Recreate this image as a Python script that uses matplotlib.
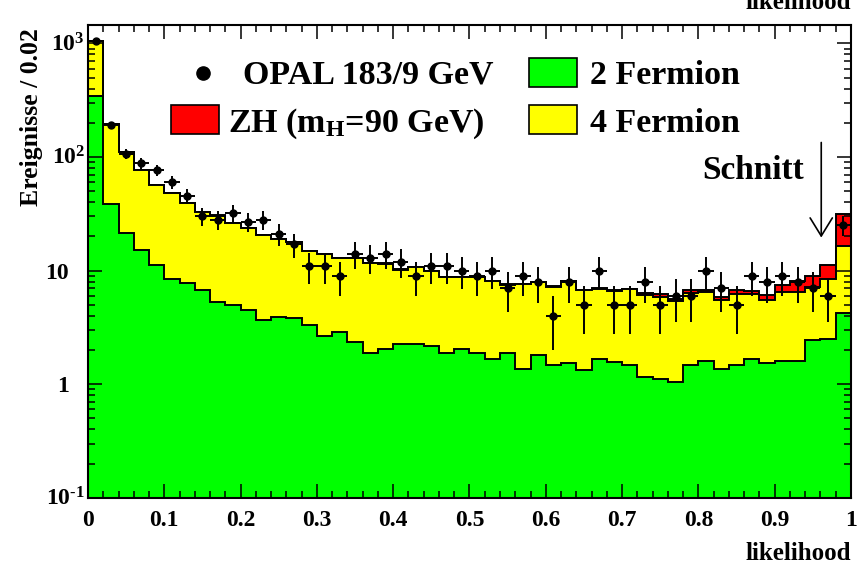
import matplotlib.pyplot as plt
import numpy as np
from matplotlib.lines import Line2D
from matplotlib.patches import Rectangle
from matplotlib.ticker import LogLocator, MultipleLocator, NullFormatter

plt.rcParams['font.family'] = ['Liberation Serif', 'DejaVu Serif']
plt.rcParams['font.weight'] = 'bold'
plt.rcParams['axes.labelweight'] = 'bold'
plt.rcParams['mathtext.fontset'] = 'custom'
plt.rcParams['mathtext.rm'] = 'Liberation Serif:bold'
plt.rcParams['mathtext.it'] = 'Liberation Serif:bold'
plt.rcParams['mathtext.bf'] = 'Liberation Serif:bold'

# likelihood histogram, 50 bins of width 0.02
bin_edges = np.linspace(0.0, 1.0, 51)

two_fermion = [
    343, 38.2, 21.5, 15.1, 11.1, 8.5, 7.7, 6.8, 5.3, 4.95,
    4.47, 3.65, 3.9, 3.8, 3.3, 2.64, 2.86, 2.33, 1.86, 2.04,
    2.26, 2.26, 2.15, 1.86, 2.04, 1.86, 1.68, 1.86, 1.36, 1.79,
    1.48, 1.52, 1.32, 1.67, 1.57, 1.46, 1.16, 1.12, 1.04, 1.46,
    1.61, 1.37, 1.46, 1.67, 1.52, 1.61, 1.61, 2.43, 2.52, 4.24,
]
four_fermion = [
    707, 155, 88.5, 61.4, 45.9, 39.5, 31.8, 25.8, 25.2, 21.35,
    19.0, 16.85, 15.1, 14.0, 11.5, 11.36, 9.94, 10.47, 9.84, 9.46,
    7.94, 8.44, 7.71, 6.94, 6.76, 6.94, 6.37, 5.67, 6.24, 6.11,
    5.62, 6.53, 5.43, 5.23, 5.09, 5.39, 4.90, 4.75, 4.33, 4.90,
    4.82, 4.18, 4.69, 4.48, 4.03, 4.88, 4.88, 4.75, 5.98, 12.36,
]
zh_signal = [
    0.03, 0.03, 0.03, 0.03, 0.03, 0.03, 0.03, 0.03, 0.03, 0.03,
    0.03, 0.03, 0.03, 0.03, 0.03, 0.03, 0.03, 0.03, 0.03, 0.03,
    0.03, 0.03, 0.03, 0.03, 0.03, 0.03, 0.03, 0.03, 0.04, 0.04,
    0.28, 0.05, 0.05, 0.05, 0.05, 0.05, 0.30, 0.28, 0.30, 0.35,
    0.28, 0.32, 0.52, 0.43, 0.51, 0.99, 1.56, 1.73, 2.6, 15.0,
]
opal_data = [
    1040, 190, 107, 88, 76, 60, 45, 30, 28, 32,
    27, 28, 21, 17, 11, 11, 9, 14, 13, 14,
    12, 9, 11, 11, 10, 9, 10, 7, 9, 8,
    4, 8, 5, 10, 5, 5, 8, 5, 6, 6,
    10, 7, 5, 9, 8, 9, 8, 7, 6, 25,
]

x_ticks = [0.0, 0.1, 0.2, 0.3, 0.4, 0.5, 0.6, 0.7, 0.8, 0.9, 1.0]
x_tick_labels = ['0', '0.1', '0.2', '0.3', '0.4', '0.5', '0.6', '0.7', '0.8', '0.9', '1']
y_ticks = [0.1, 1, 10, 100, 1000]
y_tick_labels = [r'$10^{\text{-}1}$', '1', '10', r'$10^{2}$', r'$10^{3}$']
cut_value = 0.961

GREEN = '#00ff00'
YELLOW = '#ffff00'
RED = '#ff0000'

W, H = 857, 566


def fpos(x, y):
    """pixel position (from top-left) -> figure fraction"""
    return x / W, 1 - y / H


fig = plt.figure(figsize=(W / 100, H / 100), dpi=100)
ax = fig.add_axes([88 / W, 1 - 497.7 / H, 763 / W, 472.7 / H])
ax.set_yscale('log')

stack_bkg = np.add(two_fermion, four_fermion)
stack_all = stack_bkg + np.asarray(zh_signal)
for vals, col in [(stack_all, RED), (stack_bkg, YELLOW), (two_fermion, GREEN)]:
    ax.stairs(vals, bin_edges, baseline=1e-3, fill=True,
              facecolor=col, edgecolor='black', linewidth=1.4)

centers = 0.5 * (bin_edges[:-1] + bin_edges[1:])
ax.errorbar(centers, opal_data, xerr=0.01, yerr=np.sqrt(opal_data), fmt='o',
            color='black', ms=5, elinewidth=1.4, capsize=0, zorder=5)

ax.set_xlim(0, 1)
ax.set_ylim(0.1, 1450)
ax.set_xticks(x_ticks, x_tick_labels)
ax.xaxis.set_minor_locator(MultipleLocator(0.02))
ax.set_yticks(y_ticks)
ax.set_yticklabels([])
ax.yaxis.set_minor_locator(LogLocator(base=10, subs=np.arange(2, 10), numticks=20))
ax.yaxis.set_minor_formatter(NullFormatter())
ax.tick_params(which='both', direction='in', top=True, right=True, width=1.1)
ax.tick_params(which='major', length=10)
ax.tick_params(which='minor', length=5)
ax.tick_params(axis='x', labelsize=17, pad=9)
for s in ax.spines.values():
    s.set_linewidth(1.5)

# ROOT style y labels: plain numbers sit left of the power labels
for v, lab in zip(y_ticks, y_tick_labels):
    dx = -3 if lab.startswith('$') else -19
    ax.annotate(lab, xy=(0, v), xycoords=('axes fraction', 'data'),
                xytext=(dx, -8), textcoords='offset pixels',
                ha='right', va='baseline', fontsize=17)

ax.set_ylabel('Ereignisse / 0.02', fontsize=18.5, loc='top')
ax.yaxis.set_label_coords(-0.0589, 0.994)
ax.set_xlabel('likelihood', fontsize=18, loc='right')
ax.xaxis.set_label_coords(1.0, -0.094)

# cut arrow
ax.annotate('', xy=(cut_value, 19.5), xytext=(cut_value, 134),
            arrowprops=dict(arrowstyle='->,head_length=0.65,head_width=0.4',
                            color='black', lw=1.2, shrinkA=0, shrinkB=0,
                            mutation_scale=20))
fig.text(*fpos(702, 179), 'Schnitt', fontsize=24, va='baseline')

# legend, drawn by hand like the ROOT one
fig.add_artist(Line2D([203 / W], [1 - 73 / H], marker='o', ms=9.5, color='black',
                      transform=fig.transFigure))
fig.text(*fpos(243, 84), 'OPAL 183/9 GeV', fontsize=24.5, va='baseline')
for (x0, y0, col) in [(171, 105, RED), (529, 58, GREEN), (529, 105, YELLOW)]:
    fig.add_artist(Rectangle(fpos(x0, y0 + 29), 48 / W, 29 / H, transform=fig.transFigure,
                             facecolor=col, edgecolor='black', linewidth=1.2))
fig.text(*fpos(228, 132), r'ZH (m$_{H}$=90 GeV)', fontsize=24.5, va='baseline')
fig.text(*fpos(590, 84), '2 Fermion', fontsize=24.5, va='baseline')
fig.text(*fpos(590, 132), '4 Fermion', fontsize=24.5, va='baseline')

# axis title of the panel above, cut by the page edge
fig.text(*fpos(851, 9), 'likelihood', ha='right', va='baseline', fontsize=18)

fig.savefig('out.png', dpi=100)
